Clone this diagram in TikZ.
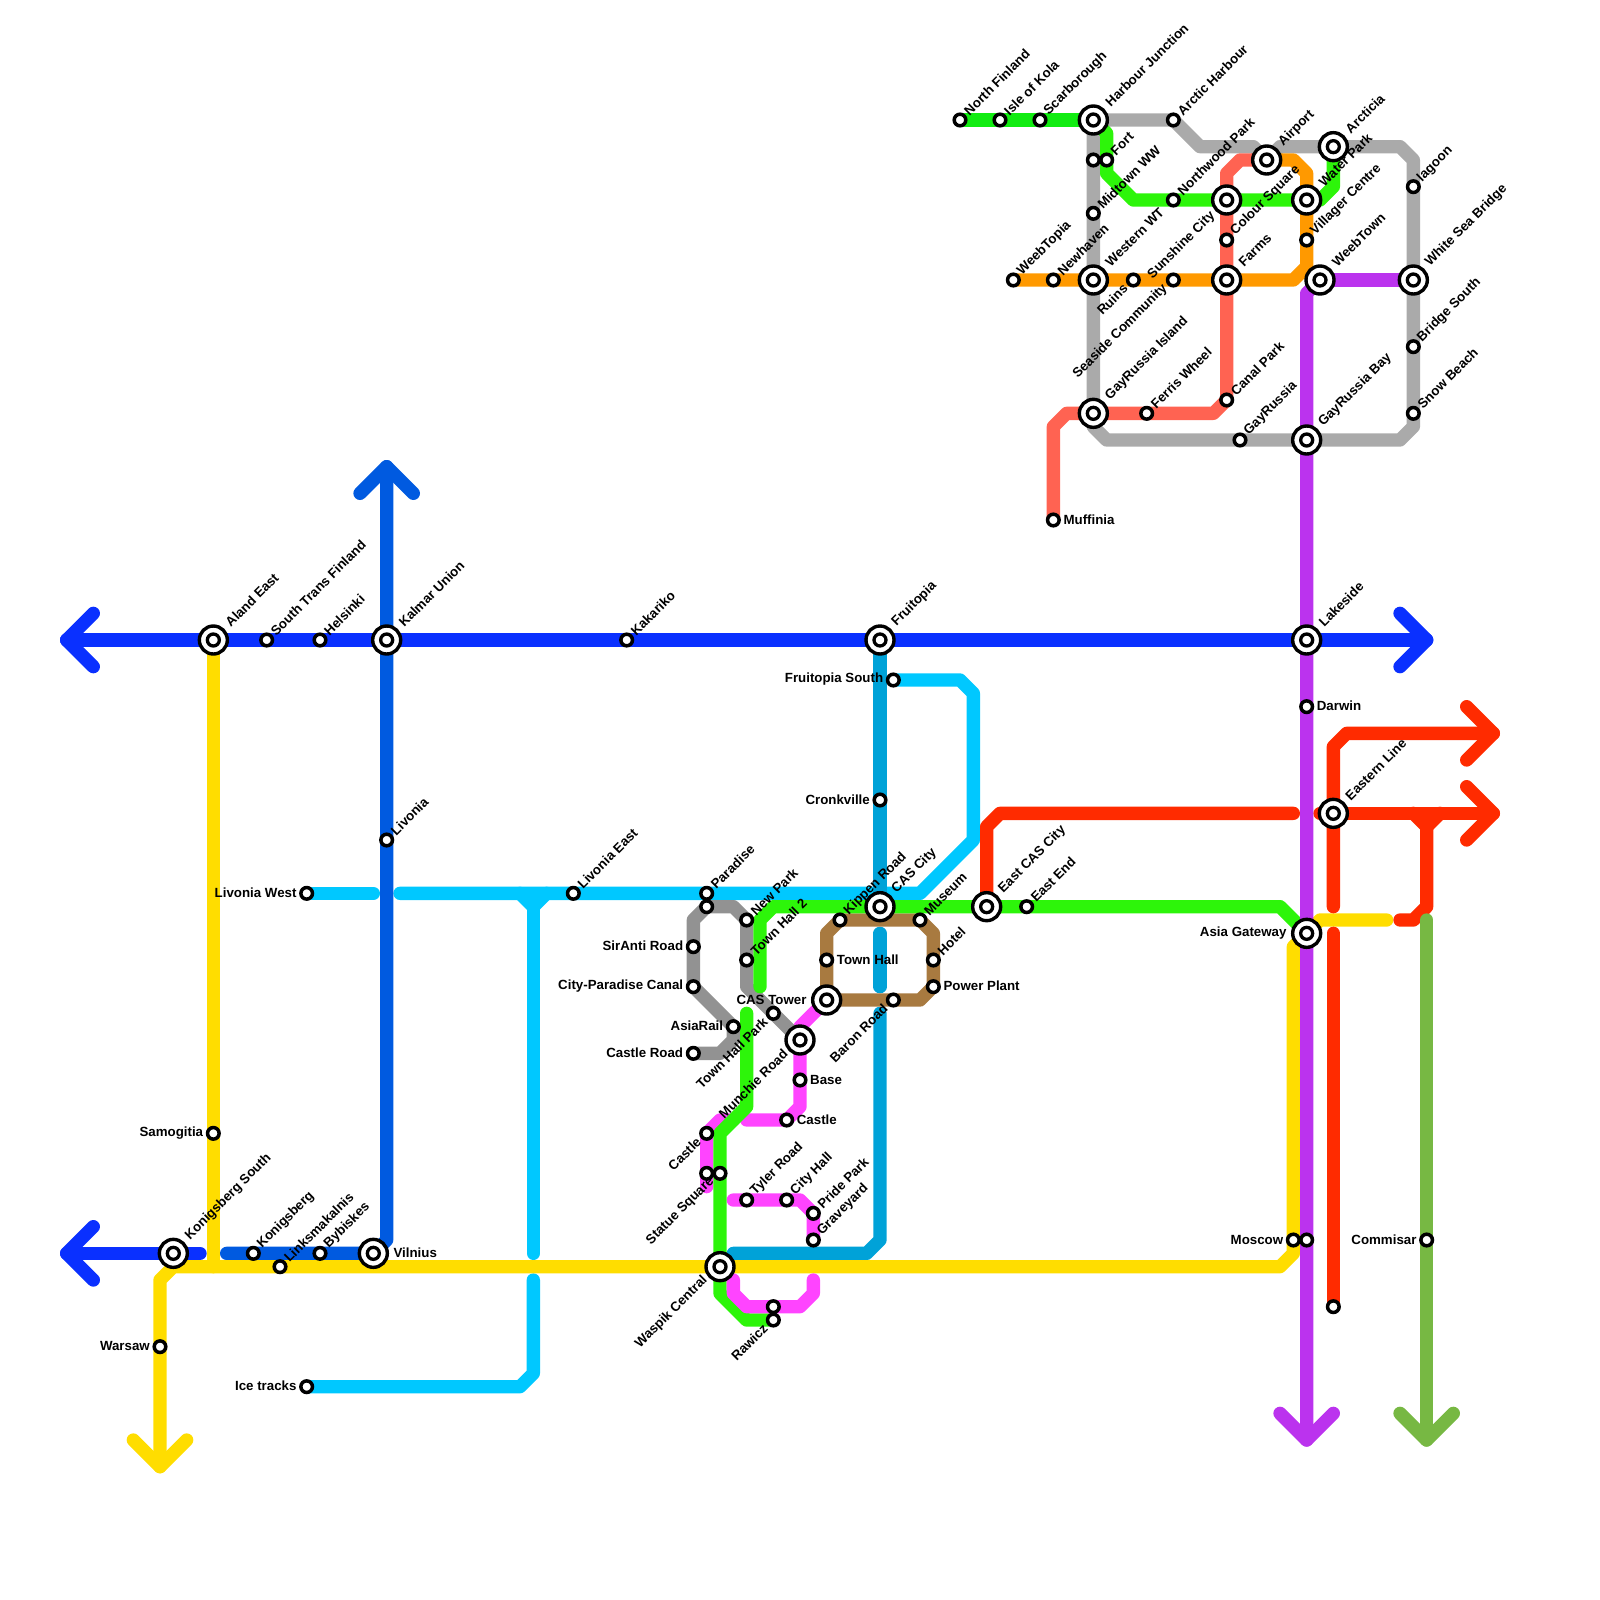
\documentclass[tikz,border=0pt]{standalone}
\usepackage{fontspec}
\setmainfont{Liberation Sans}
\usetikzlibrary{backgrounds}
\definecolor{cBlue}{HTML}{0A30FF}
\definecolor{cDark}{HTML}{005AE0}
\definecolor{cCyan}{HTML}{00C8FF}
\definecolor{cTeal}{HTML}{00A2D8}
\definecolor{cYel}{HTML}{FFDD00}
\definecolor{cLimeA}{HTML}{12EC12}
\definecolor{cLimeB}{HTML}{2DF50A}
\definecolor{cRed}{HTML}{FF2B00}
\definecolor{cCoral}{HTML}{FF6352}
\definecolor{cOrange}{HTML}{FF9900}
\definecolor{cPurple}{HTML}{BB33EE}
\definecolor{cGreyL}{HTML}{AAAAAA}
\definecolor{cGreyD}{HTML}{929292}
\definecolor{cBrown}{HTML}{A87A40}
\definecolor{cMag}{HTML}{FF44FF}
\definecolor{cOlive}{HTML}{77B843}
\tikzset{
 mline/.style={line width=13.33pt,line cap=round,line join=round},
 stn/.style={circle,draw=black,fill=white,line width=3.5pt,minimum size=11.6pt,inner sep=0pt,outer sep=0pt},
 ixin/.style={circle,draw=black,fill=white,line width=3.3pt,minimum size=12pt,inner sep=0pt,outer sep=0pt},
 ixn/.style={circle,draw=black,fill=white,line width=3.4pt,minimum size=28pt,inner sep=0pt,outer sep=0pt,label={[ixin]center:}},
 lab/.style={font=\fontsize{13.3}{15}\selectfont\bfseries,inner sep=0pt,text=black},
 labur/.style={lab,rotate=45,anchor=west,xshift=9.3pt,yshift=0.5pt},
 labll/.style={lab,rotate=45,anchor=east,xshift=-10pt,yshift=1.2pt},
 labr/.style={lab,anchor=west,xshift=10pt,yshift=0.5pt},
 labl/.style={lab,anchor=east,xshift=-10pt,yshift=0.5pt},
 Labur/.style={lab,rotate=45,anchor=west,xshift=21pt,yshift=1pt},
 Labll/.style={lab,rotate=45,anchor=east,xshift=-18.5pt,yshift=2pt},
 Labr/.style={lab,anchor=west,xshift=20pt,yshift=0.5pt},
 Labl/.style={lab,anchor=east,xshift=-20pt,yshift=0.5pt},
}
\newcommand{\st}[5]{\node[stn] (#1) at (#2,#3) {}; \node[#5] (#1t) at (#1.center) {#4};}
\newcommand{\sn}[3]{\node[stn] (#1) at (#2,#3) {};}
\newcommand{\ix}[5]{\node[ixn] (#1) at (#2,#3) {}; \node[#5] (#1t) at (#1.center) {#4};}
\newcommand{\ixb}[3]{\node[ixn] (#1) at (#2,#3) {};}
\begin{document}
\begin{tikzpicture}[x=13.3333pt,y=-13.3333pt]
\useasboundingbox (0,0) rectangle (120,120);
% --- stations, north-east block
\st{NF}{72}{9}{North Finland}{labur}
\st{IK}{75}{9}{Isle of Kola}{labur}
\st{SC}{78}{9}{Scarborough}{labur}
\ix{HJ}{82}{9}{Harbour Junction}{Labur}
\st{AH}{88}{9}{Arctic Harbour}{labur}
\sn{GF}{82}{12}
\st{FO}{83}{12}{Fort}{labur}
\st{MW}{82}{16}{Midtown WW}{labur}
\st{NP}{88}{15}{Northwood Park}{labur}
\ixb{CQ}{92}{15}
\ix{AP}{95}{12}{Airport}{Labur}
\ix{AC}{100}{11}{Arcticia}{Labur}
\ix{WP}{98}{15}{Water Park}{Labur}
\st{VC}{98}{18}{Villager Centre}{labur}
\ix{WE}{99}{21}{WeebTown}{Labur}
\ix{WS}{106}{21}{White Sea Bridge}{Labur}
\st{LG}{106}{14}{lagoon}{labur}
\st{BS}{106}{26}{Bridge South}{labur}
\st{SB}{106}{31}{Snow Beach}{labur}
\ix{GB}{98}{33}{GayRussia Bay}{Labur}
\st{GR}{93}{33}{GayRussia}{labur}
\st{CP}{92}{30}{Canal Park}{labur}
\st{FW}{86}{31}{Ferris Wheel}{labur}
\ix{GI}{82}{31}{GayRussia Island}{Labur}
\st{MF}{79}{39}{Muffinia}{labr}
\st{CS}{92}{18}{Colour Square}{labur}
\ix{FA}{92}{21}{Farms}{Labur}
\st{SE}{88}{21}{Seaside Community}{labll}
\st{RU}{85}{21}{Ruins}{labll}
\node[lab,rotate=45,anchor=west,xshift=14pt,yshift=-9.6pt] (SUt) at (RU.center) {Sunshine City};
\ix{WW}{82}{21}{Western WT}{Labur}
\st{NH}{79}{21}{Newhaven}{labur}
\st{WT}{76}{21}{WeebTopia}{labur}
% --- main row
\ix{AE}{16}{48}{Aland East}{Labur}
\st{TF}{20}{48}{South Trans Finland}{labur}
\st{HE}{24}{48}{Helsinki}{labur}
\ix{KU}{29}{48}{Kalmar Union}{Labur}
\st{KA}{47}{48}{Kakariko}{labur}
\ix{FR}{66}{48}{Fruitopia}{Labur}
\ix{LA}{98}{48}{Lakeside}{Labur}
\st{DA}{98}{53}{Darwin}{labr}
\st{FS}{67}{51}{Fruitopia South}{labl}
\st{CR}{66}{60}{Cronkville}{labl}
\st{LI}{29}{63}{Livonia}{labur}
\st{LW}{23}{67}{Livonia West}{labl}
\st{LE}{43}{67}{Livonia East}{labur}
% --- centre
\st{PA}{53}{67}{Paradise}{labur}
\sn{PB}{53}{68}
\st{NW}{56}{69}{New Park}{labur}
\st{TH}{56}{72}{Town Hall 2}{labur}
\st{SA}{52}{71}{SirAnti Road}{labl}
\st{CC}{52}{74}{City-Paradise Canal}{labl}
\st{AR}{55}{77}{AsiaRail}{labl}
\st{CD}{52}{79}{Castle Road}{labl}
\st{TP}{58}{76}{Town Hall Park}{labll}
\ix{CT}{62}{75}{CAS Tower}{Labl}
\ix{MR}{60}{78}{Munchie Road}{Labll}
\st{BA}{60}{81}{Base}{labr}
\st{CE}{59}{84}{Castle}{labr}
\st{CW}{53}{85}{Castle}{labll}
\sn{SQ}{53}{88}
\st{SR}{54}{88}{Statue Square}{labll}
\st{TY}{56}{90}{Tyler Road}{labur}
\st{CH}{59}{90}{City Hall}{labur}
\st{PP}{61}{91}{Pride Park}{labur}
\st{GV}{61}{93}{Graveyard}{labur}
\ix{WC}{54}{95}{Waspik Central}{Labll}
\sn{RA}{58}{98}
\st{RB}{58}{99}{Rawicz}{labll}
\st{KR}{63}{69}{Kippen Road}{labur}
\ix{CA}{66}{68}{CAS City}{Labur}
\st{MU}{69}{69}{Museum}{labur}
\st{HO}{70}{72}{Hotel}{labur}
\st{PW}{70}{74}{Power Plant}{labr}
\st{TN}{62}{72}{Town Hall}{labr}
\st{BR}{67}{75}{Baron Road}{labll}
\ix{EC}{74}{68}{East CAS City}{Labur}
\st{EE}{77}{68}{East End}{labur}
\ix{AG}{98}{70}{Asia Gateway}{Labl}
\ix{EL}{100}{61}{Eastern Line}{Labur}
\sn{EN}{100}{98}
\st{MO}{97}{93}{Moscow}{labl}
\sn{MP}{98}{93}
\st{CM}{107}{93}{Commisar}{labl}
% --- south-west
\st{SM}{16}{85}{Samogitia}{labl}
\ix{KS}{13}{94}{Konigsberg South}{Labur}
\st{KO}{19}{94}{Konigsberg}{labur}
\st{LK}{21}{95}{Linksmakalnis}{labur}
\st{BY}{24}{94}{Bybiskes}{labur}
\ix{VI}{28}{94}{Vilnius}{Labr}
\st{WA}{12}{101}{Warsaw}{labl}
\st{IT}{23}{104}{Ice tracks}{labl}
% free ends of the lines
\coordinate (bL) at (5,48);
\coordinate (bR) at (107,48);
\coordinate (kL) at (5,94);
\coordinate (dT) at (29,35);
\coordinate (yB) at (12,110);
\coordinate (pB) at (98,108);
\coordinate (oB) at (107,108);
\coordinate (rA) at (112,55);
\coordinate (rB) at (112,61);
\begin{scope}[on background layer]
% upper magenta, behind lime
\draw[mline,cMag] (CT.center) -- (60,77) -- (MR.center) -- (BA.center) -- (60,83) -- (CE.center) -- (56,84);
\draw[mline,cMag] (55,84) -- (54,84) -- (CW.center) -- (SQ.center) -- (53,89);
\draw[mline,cMag] (55,90) -- (TY.center) -- (CH.center) -- (60,90) -- (PP.center) -- (GV.center);
% cyan
\draw[mline,cCyan] (LW.center) -- (28,67);
\draw[mline,cCyan] (30,67) -- (LE.center) -- (PA.center) -- (69,67) -- (73,63) -- (73,52) -- (72,51) -- (FS.center);
\draw[mline,cCyan] (39,67) -- (40,68) -- (41,67);
\draw[mline,cCyan] (40,68) -- (40,94);
\draw[mline,cCyan] (40,96) -- (40,103) -- (39,104) -- (IT.center);
% teal
\draw[mline,cTeal] (FR.center) -- (CR.center) -- (CA.center);
\draw[mline,cTeal] (66,70) -- (66,74);
\draw[mline,cTeal] (66,76) -- (66,93) -- (65,94) -- (55,94);
% bright blue
\draw[mline,cBlue] (bL) -- (AE.center) -- (TF.center) -- (HE.center) -- (KU.center) -- (KA.center) -- (FR.center) -- (LA.center) -- (bR);
\draw[mline,cBlue] (7,46) -- (bL) -- (7,50);
\draw[mline,cBlue] (105,46) -- (bR) -- (105,50);
\draw[mline,cBlue] (kL) -- (KS.center) -- (15,94);
\draw[mline,cBlue] (7,92) -- (kL) -- (7,96);
% dark blue
\draw[mline,cDark] (17,94) -- (KO.center) -- (BY.center) -- (VI.center) -- (29,93) -- (LI.center) -- (KU.center) -- (dT);
\draw[mline,cDark] (27,37) -- (dT) -- (31,37);
% yellow
\draw[mline,cYel] (AE.center) -- (SM.center) -- (16,95);
\draw[mline,cYel] (yB) -- (WA.center) -- (12,96) -- (13,95) -- (LK.center) -- (WC.center) -- (96,95) -- (97,94) -- (MO.center) -- (97,71) -- (99,69) -- (104,69);
\draw[mline,cYel] (10,108) -- (yB) -- (14,108);
% greys
\draw[mline,cGreyL] (HJ.center) -- (AH.center) -- (90,11) -- (94,11) -- (AP.center) -- (96,11) -- (AC.center) -- (105,11) -- (106,12) -- (LG.center) -- (WS.center) -- (BS.center) -- (SB.center) -- (106,32) -- (105,33) -- (GB.center) -- (GR.center) -- (83,33) -- (82,32) -- (GI.center) -- (WW.center) -- (MW.center) -- (GF.center) -- (HJ.center);
\draw[mline,cGreyD] (CD.center) -- (54,79) -- (55,78) -- (AR.center) -- (CC.center) -- (SA.center) -- (52,69) -- (PB.center) -- (55,68) -- (NW.center) -- (TH.center) -- (56,74) -- (TP.center) -- (MR.center);
% brown
\draw[mline,cBrown] (CT.center) -- (TN.center) -- (62,70) -- (KR.center) -- (MU.center) -- (70,70) -- (HO.center) -- (PW.center) -- (69,75) -- (BR.center) -- (CT.center);
% lime
\draw[mline,cLimeA] (NF.center) -- (IK.center) -- (SC.center) -- (HJ.center);
\draw[mline,cLimeB] (HJ.center) -- (83,10) -- (FO.center) -- (83,13) -- (85,15) -- (NP.center) -- (CQ.center) -- (WP.center) -- (99,15) -- (100,14) -- (AC.center);
\draw[mline,cLimeB] (57,74) -- (57,69) -- (58,68) -- (CA.center) -- (EC.center) -- (EE.center) -- (96,68) -- (AG.center);
\draw[mline,cLimeB] (56,76) -- (56,83) -- (54,85) -- (SR.center) -- (WC.center) -- (54,97) -- (56,99) -- (RB.center);
% lower magenta
\draw[mline,cMag] (55,96) -- (55,97) -- (56,98) -- (RA.center) -- (60,98) -- (61,97) -- (61,96);
% coral, orange
\draw[mline,cCoral] (AP.center) -- (93,12) -- (92,13) -- (CQ.center) -- (CS.center) -- (FA.center) -- (CP.center) -- (91,31) -- (FW.center) -- (GI.center) -- (80,31) -- (79,32) -- (MF.center);
\draw[mline,cOrange] (WT.center) -- (NH.center) -- (WW.center) -- (RU.center) -- (SE.center) -- (FA.center) -- (97,21) -- (98,20) -- (VC.center) -- (WP.center) -- (98,13) -- (97,12) -- (AP.center);
% red
\draw[mline,cRed] (EC.center) -- (74,62) -- (75,61) -- (97,61);
\draw[mline,cRed] (99,61) -- (EL.center) -- (rB);
\draw[mline,cRed] (110,59) -- (rB) -- (110,63);
\draw[mline,cRed] (100,68) -- (EL.center) -- (100,56) -- (101,55) -- (rA);
\draw[mline,cRed] (110,53) -- (rA) -- (110,57);
\draw[mline,cRed] (100,70) -- (EN.center);
\draw[mline,cRed] (106,61) -- (107,62) -- (108,61);
\draw[mline,cRed] (107,62) -- (107,68) -- (106,69) -- (105,69);
% olive
\draw[mline,cOlive] (107,69) -- (CM.center) -- (oB);
\draw[mline,cOlive] (105,106) -- (oB) -- (109,106);
% purple
\draw[mline,cPurple] (WE.center) -- (WS.center);
\draw[mline,cPurple] (WE.center) -- (98,22) -- (GB.center) -- (LA.center) -- (DA.center) -- (AG.center) -- (MP.center) -- (pB);
\draw[mline,cPurple] (96,106) -- (pB) -- (100,106);
\end{scope}
\end{tikzpicture}
\end{document}
